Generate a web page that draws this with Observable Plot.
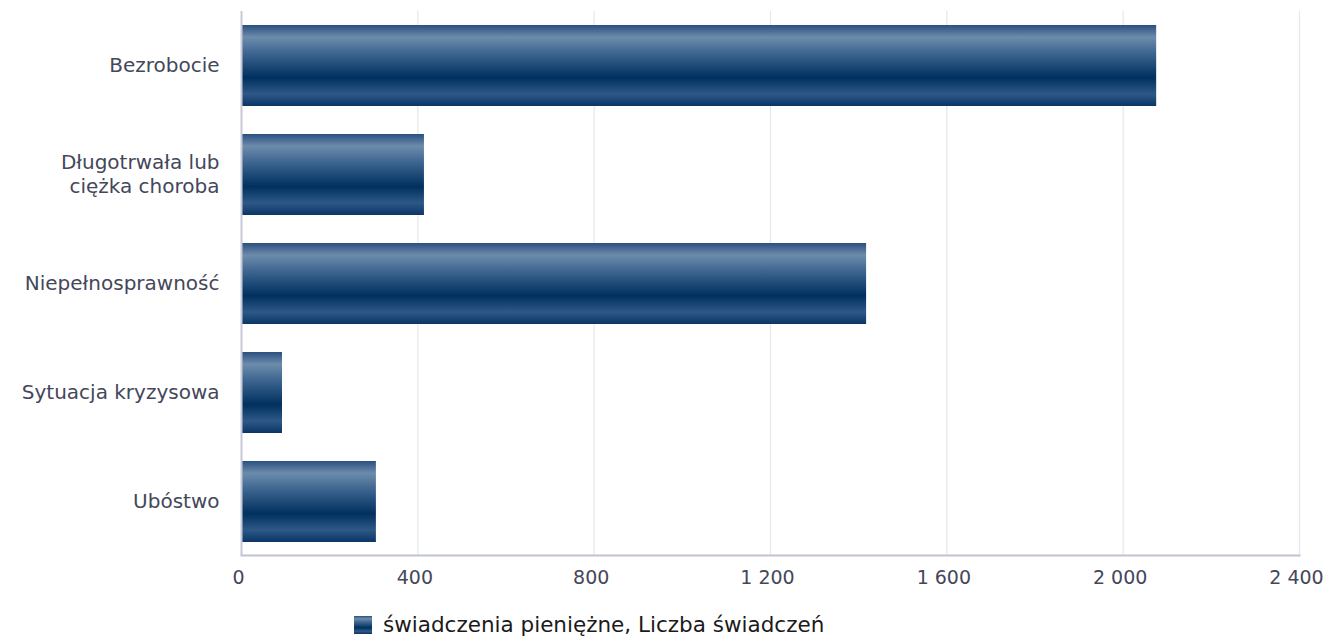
<!DOCTYPE html>
<html>
<head>
<meta charset="utf-8">
<script src="https://cdn.jsdelivr.net/npm/d3@7"></script>
<script src="https://cdn.jsdelivr.net/npm/@observablehq/plot@0.6"></script>
<style>
  body { margin: 0; background: #fff; font-family: "DejaVu Sans", sans-serif; }
  #chart svg { display: block; }
  #legend { position: relative; height: 36px; }
  #legend .item { position: absolute; left: 354px; top: 12px; display: flex; align-items: center; font-size: 21.5px; color: #1a1a1a; white-space: nowrap; }
  #legend .sw { width: 18px; height: 18px; margin-right: 11px;
    background: linear-gradient(to bottom, #2a5080 0%, #6d8cab 15%, #3d6590 35%, #00305f 65%, #2e5886 85%, #0a3566 100%); }
</style>
</head>
<body>
<div id="chart"></div>
<div id="legend"><div class="item"><div class="sw"></div><span>świadczenia pieniężne, Liczba świadczeń</span></div></div>
<script>
const categories = ["Bezrobocie", "Długotrwała lub\nciężka choroba", "Niepełnosprawność", "Sytuacja kryzysowa", "Ubóstwo"];
const values = [2076, 415, 1418, 93, 306];
const xTicks = [0, 400, 800, 1200, 1600, 2000, 2400];

const data = categories.map((c, i) => ({category: c, value: values[i]}));

const fmt = d => d3.format(",")(d).replace(/,/g, " ");

const chart = Plot.plot({
  width: 1328,
  height: 600,
  marginLeft: 241,
  marginRight: 29,
  marginTop: 11,
  marginBottom: 45,
  style: {fontFamily: "DejaVu Sans, sans-serif", fontSize: "19px", color: "#44475a", background: "#fff"},
  x: {domain: [0, 2400]},
  y: {domain: categories, paddingInner: 0.26, paddingOuter: 0.12},
  marks: [
    Plot.gridX(xTicks, {stroke: "#e6e6ee", strokeOpacity: 1, strokeWidth: 1.2}),
    Plot.barX(data, {x: "value", y: "category", fill: "url(#barGrad)"}),
    Plot.ruleX([0], {stroke: "#c8c9d8", strokeWidth: 2}),
    Plot.frame({anchor: "bottom", stroke: "#c0c3d3", strokeWidth: 2}),
    Plot.axisX(xTicks, {tickSize: 0, tickPadding: 15, dx: -3, tickFormat: fmt, fontSize: 19, fill: "#44475a", label: null}),
    Plot.axisY({tickSize: 0, tickPadding: 22, dy: -2, fontSize: 20, fill: "#44475a", label: null, lineHeight: 1.2})
  ]
});

const defs = d3.select(chart).insert("defs", ":first-child");
const grad = defs.append("linearGradient").attr("id", "barGrad")
  .attr("x1", 0).attr("y1", 0).attr("x2", 0).attr("y2", 1);
[[0, "#2a5080"], [0.15, "#6d8cab"], [0.35, "#3d6590"], [0.65, "#00305f"], [0.85, "#2e5886"], [1, "#0a3566"]]
  .forEach(([o, c]) => grad.append("stop").attr("offset", o).attr("stop-color", c));

document.getElementById("chart").appendChild(chart);
</script>
</body>
</html>
